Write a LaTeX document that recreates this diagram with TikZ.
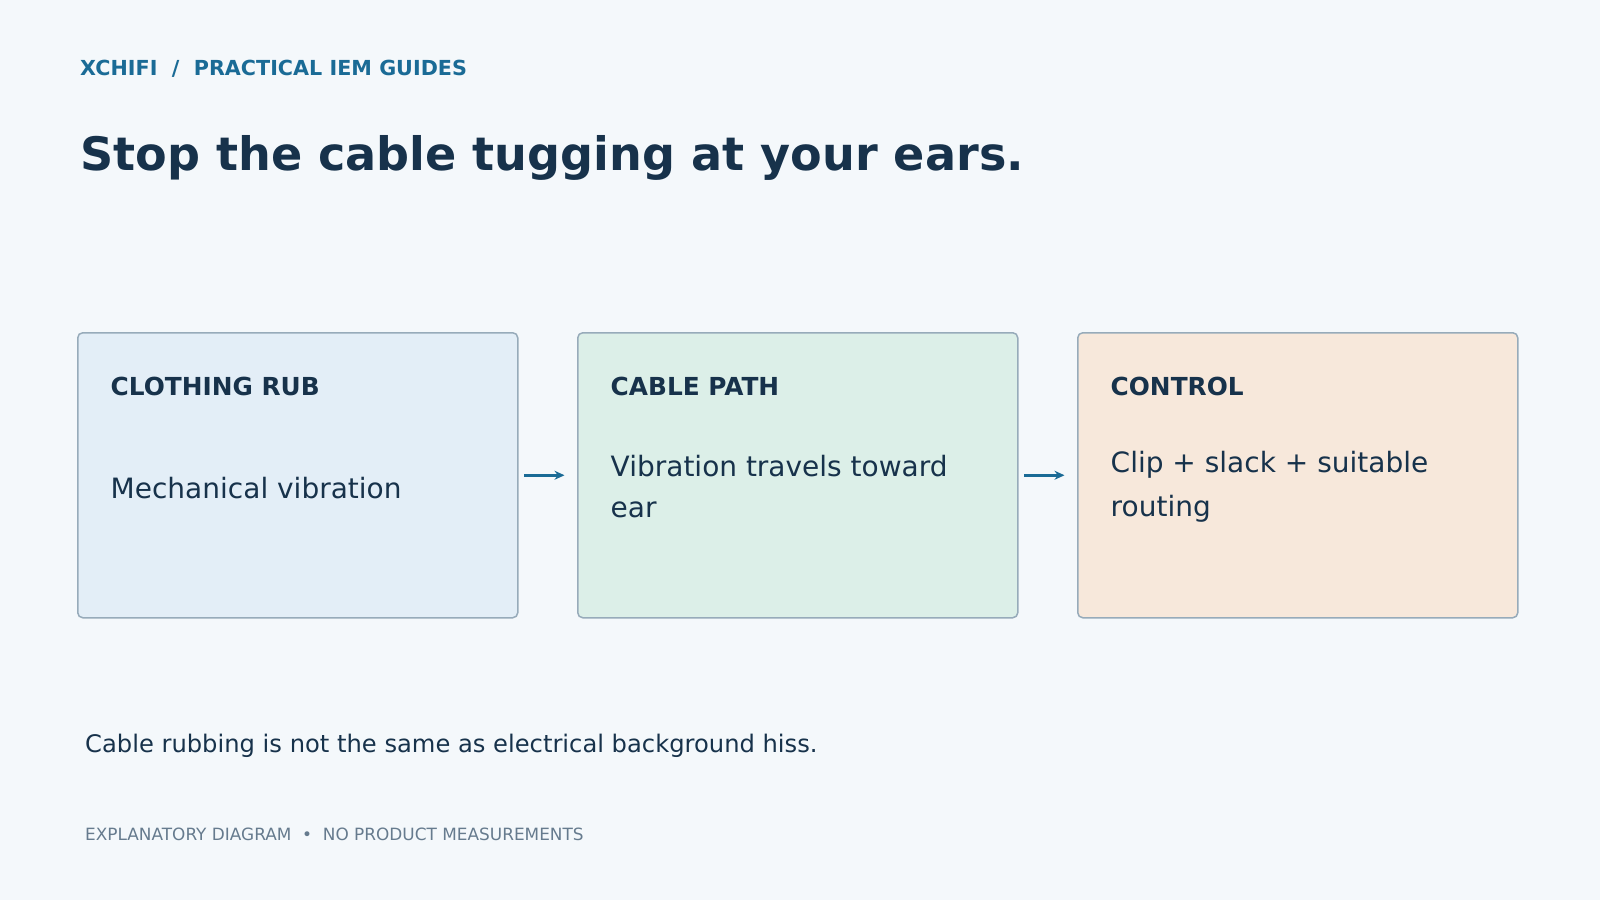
\documentclass[tikz,border=0pt]{standalone}
\usepackage{fontspec}
\setmainfont{DejaVu Sans}
\usetikzlibrary{arrows.meta}
\definecolor{bgc}{HTML}{F4F8FB}
\definecolor{boxa}{HTML}{E3EEF7}
\definecolor{boxb}{HTML}{DCEFE8}
\definecolor{boxc}{HTML}{F7E8DB}
\definecolor{edgec}{HTML}{97ABBA}
\definecolor{inkc}{HTML}{17324B}
\definecolor{accentc}{HTML}{1A6B96}
\definecolor{grayc}{HTML}{667B8E}
\tikzset{
  panel/.style={draw=edgec, line width=1.5pt, rounded corners=5pt, minimum width=440pt, minimum height=285pt, inner sep=0pt, anchor=north west},
  txt/.style={anchor=base west, inner sep=0pt, text=inkc},
  paneltitle/.style={txt, font=\fontsize{24.8}{28}\selectfont\bfseries},
  panelbody/.style={txt, font=\fontsize{28}{32}\selectfont},
  flow/.style={draw=accentc, line width=2.6pt, -{Stealth[length=10pt,width=9pt]}},
}
\begin{document}
\begin{tikzpicture}[x=1pt,y=-1pt]
\useasboundingbox (0,0) rectangle (1600,900);
\fill[bgc] (0,0) rectangle (1600,900);
\node[txt, text=accentc, font=\fontsize{20.7}{24}\selectfont\bfseries] (hdr) at (80,75) {XCHIFI\ \ /\ \ PRACTICAL IEM GUIDES};
\node[txt, font=\fontsize{46.1}{56}\selectfont\bfseries] (ttl) at (80,170) {Stop the cable tugging at your ears.};
\node[panel, fill=boxa] (b1) at (77,332) {};
\node[panel, fill=boxb] (b2) at (577,332) {};
\node[panel, fill=boxc] (b3) at (1077,332) {};
\node[paneltitle] (t1) at (110.5,395) {CLOTHING RUB};
\node[paneltitle] (t2) at (610.5,395) {CABLE PATH};
\node[paneltitle] (t3) at (1110.5,395) {CONTROL};
\node[panelbody] (m1) at (110.5,498) {Mechanical vibration};
\node[panelbody] (m2a) at (610.5,476) {Vibration travels toward};
\node[panelbody] (m2b) at (610.5,517) {ear};
\node[panelbody] (m3a) at (1110.5,472.5) {Clip + slack + suitable};
\node[panelbody] (m3b) at (1110.5,516.5) {routing};
\draw[flow] ([xshift=5.5pt]b1.east) -- ([xshift=-12.5pt]b2.west);
\draw[flow] ([xshift=5.5pt]b2.east) -- ([xshift=-12.5pt]b3.west);
\node[txt, font=\fontsize{24.2}{28}\selectfont] (note) at (85,752) {Cable rubbing is not the same as electrical background hiss.};
\node[txt, text=grayc, font=\fontsize{16.9}{20}\selectfont] (foot) at (85,840) {EXPLANATORY DIAGRAM\ \ •\ \ NO PRODUCT MEASUREMENTS};
\end{tikzpicture}
\end{document}
